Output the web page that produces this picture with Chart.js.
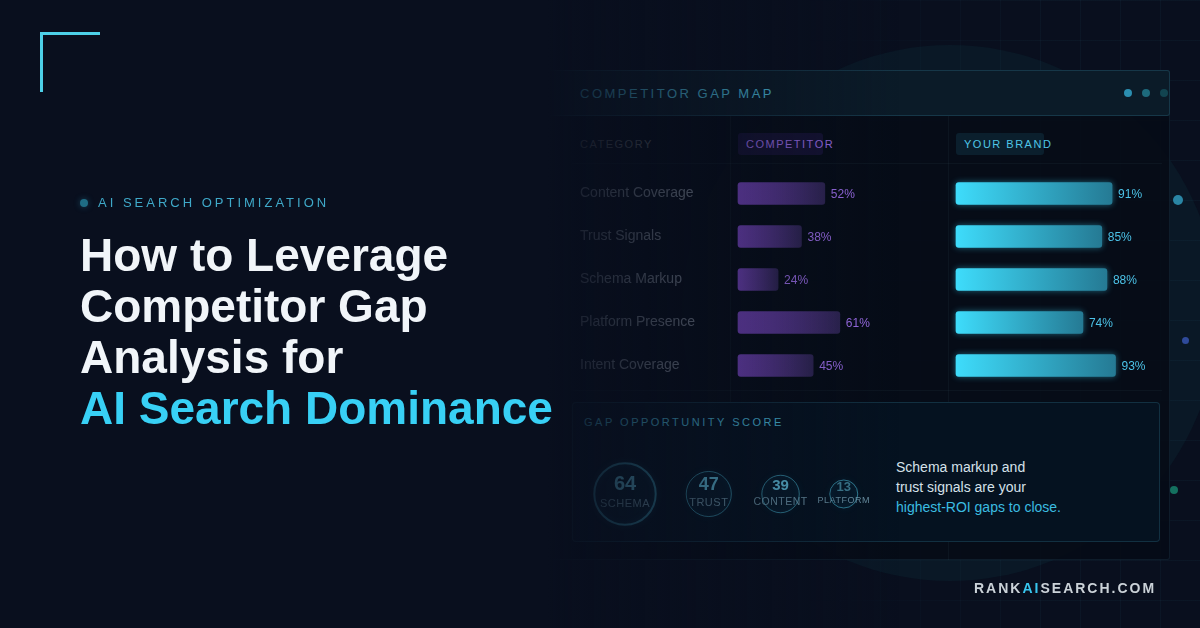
<!DOCTYPE html>
<html>
<head>
<meta charset="utf-8">
<title>Competitor Gap Map</title>
<script src="https://cdn.jsdelivr.net/npm/chart.js@4/dist/chart.umd.min.js"></script>
<style>
html, body { margin: 0; padding: 0; background: #090f1e; }
body { width: 1200px; height: 628px; position: relative; overflow: hidden; font-family: "Liberation Sans", Arial, sans-serif; }
.abs { position: absolute; }
canvas { position: absolute; display: block; }
#glow { left: 682px; top: 45px; width: 536px; height: 536px; border-radius: 50%; background: #0a1826; }
#grid { left: 600px; top: 0; width: 600px; height: 628px;
  background-image: linear-gradient(rgba(70,160,190,.05) 1px, transparent 1px), linear-gradient(90deg, rgba(70,160,190,.05) 1px, transparent 1px);
  background-size: 40px 40px; background-position: 0 0;
  -webkit-mask-image: linear-gradient(90deg, transparent 200px, #000 450px); mask-image: linear-gradient(90deg, transparent 200px, #000 450px); }
#panel { left: 548px; top: 70px; width: 622px; height: 490px; background: rgba(5,11,22,.9); border: 1px solid rgba(80,160,190,.12); box-sizing: border-box; border-radius: 3px; }
#head { left: 548px; top: 70px; width: 622px; height: 46px; background: #0b1b28; border: 1px solid rgba(70,170,200,.2); box-sizing: border-box; border-radius: 3px; }
.line { background: rgba(120,170,190,.06); }
.dot { border-radius: 50%; }
#box { left: 572px; top: 402px; width: 588px; height: 140px; background: #051220; border: 1px solid rgba(70,170,200,.2); box-sizing: border-box; border-radius: 4px; }
.pill { height: 22px; top: 133px; border-radius: 3px; }
.cap { white-space: nowrap; line-height: 1; }
#fade { left: 0; top: 0; width: 1200px; height: 628px;
  background: linear-gradient(90deg, #090f1e 548px, rgba(9,15,30,.85) 575px, rgba(9,15,30,.42) 740px, rgba(9,15,30,0) 900px); }
#title { left: 80px; top: 230px; font-size: 46px; line-height: 51px; font-weight: 700; color: #f1f5f9; white-space: nowrap; letter-spacing: 0; }
#title span { color: #38d0f5; }
</style>
</head>
<body>
<div class="abs" id="glow"></div>
<div class="abs" id="grid"></div>
<div class="abs dot" style="left:1173px;top:195px;width:10px;height:10px;background:#2a86a5"></div>
<div class="abs dot" style="left:1182px;top:337px;width:7px;height:7px;background:#2f4a9a"></div>
<div class="abs dot" style="left:1170px;top:486px;width:8px;height:8px;background:#14705f"></div>

<div class="abs" id="panel"></div>
<div class="abs line" style="left:730px;top:116px;width:1px;height:286px"></div>
<div class="abs line" style="left:948px;top:116px;width:1px;height:444px"></div>
<div class="abs line" style="left:572px;top:163px;width:590px;height:1px"></div>
<div class="abs line" style="left:572px;top:390px;width:590px;height:1px"></div>
<div class="abs" id="head"></div>
<div class="abs dot" style="left:1124px;top:89px;width:8px;height:8px;background:#2b8eb0"></div>
<div class="abs dot" style="left:1142px;top:89px;width:8px;height:8px;background:#1d6a7c"></div>
<div class="abs dot" style="left:1160px;top:89px;width:8px;height:8px;background:#124450"></div>
<div class="abs cap" style="left:580px;top:87px;font-size:13px;letter-spacing:2.5px;color:#4fc6e6">COMPETITOR GAP MAP</div>

<div class="abs pill" style="left:738px;width:85px;background:rgba(124,58,237,.13)"></div>
<div class="abs pill" style="left:956px;width:88px;background:rgba(56,208,245,.1)"></div>
<div class="abs cap" style="left:580px;top:139px;font-size:11px;letter-spacing:1.5px;color:rgba(255,255,255,.35)">CATEGORY</div>
<div class="abs cap" style="left:746px;top:139px;font-size:11px;letter-spacing:1.5px;color:#a070ee">COMPETITOR</div>
<div class="abs cap" style="left:964px;top:139px;font-size:11px;letter-spacing:1.5px;color:#4fc6e6">YOUR BRAND</div>

<div class="abs" id="box"></div>
<div class="abs cap" style="left:584px;top:417px;font-size:11px;letter-spacing:2.5px;color:#4fc6e6">GAP OPPORTUNITY SCORE</div>
<div class="abs" style="left:896px;top:457px;font-size:14px;line-height:20px;color:#d5e1ea;white-space:nowrap">Schema markup and<br>trust signals are your<br><span style="color:#3bbde0">highest-ROI gaps to close.</span></div>

<canvas id="compChart" class="abs" style="left:580px;top:172px;width:368px;height:215px"></canvas>
<canvas id="brandChart" class="abs" style="left:940px;top:172px;width:230px;height:215px"></canvas>
<canvas id="scoreChart" class="abs" style="left:575px;top:444px;width:310px;height:100px"></canvas>

<div class="abs" id="fade"></div>

<div class="abs" style="left:40px;top:32px;width:60px;height:3px;background:#4dd0e8"></div>
<div class="abs" style="left:40px;top:32px;width:3px;height:60px;background:#4dd0e8"></div>
<div class="abs dot" style="left:80px;top:199px;width:8px;height:8px;background:#1f6d85;box-shadow:0 0 6px rgba(50,170,210,.35)"></div>
<div class="abs cap" style="left:98px;top:196px;font-size:13px;letter-spacing:3px;color:#3fa9c9">AI SEARCH OPTIMIZATION</div>
<div class="abs" id="title">How to Leverage<br>Competitor Gap<br>Analysis for<br><span>AI Search Dominance</span></div>
<div class="abs cap" style="left:974px;top:581px;font-size:14px;font-weight:700;letter-spacing:2px;color:#cbd2d8">RANK<span style="color:#38c6ee">AI</span>SEARCH.COM</div>

<script>
// chart data
var categories = ["Content Coverage", "Trust Signals", "Schema Markup", "Platform Presence", "Intent Coverage"];
var competitorValues = [52, 38, 24, 61, 45];
var brandValues = [91, 85, 88, 74, 93];

var scoreLabels = ["SCHEMA", "TRUST", "CONTENT", "PLATFORM"];
var scoreValues = [64, 47, 39, 13];

var FONT = '"Liberation Sans", Arial, sans-serif';

// circle size follows the score, with a floor for the small ones
function scoreRadius(v) {
    return Math.max(14, v * 0.48);
}

// left to right, fixed gap between the circles
function scorePoints() {
    var pts = [];
    var x = 50;
    scoreValues.forEach(function(v, i) {
        if (i > 0) x += scoreRadius(scoreValues[i - 1]) + 30.5 + scoreRadius(v);
        pts.push({x: x, y: 0, r: scoreRadius(v)});
    });
    return pts;
}

function barGradient(context, from, to) {
    var chart = context.chart;
    if (!chart.chartArea || context.parsed === undefined) return from;
    var x0 = chart.scales.x.getPixelForValue(0);
    var x1 = chart.scales.x.getPixelForValue(context.parsed.x);
    var g = chart.ctx.createLinearGradient(x0, 0, x1, 0);
    g.addColorStop(0, from);
    g.addColorStop(1, to);
    return g;
}

// percent label at the end of each bar
var percentLabels = {
    id: 'percentLabels',
    afterDatasetsDraw: function(chart, args, opts) {
        var ctx = chart.ctx;
        var meta = chart.getDatasetMeta(0);
        ctx.save();
        ctx.font = '12px ' + FONT;
        ctx.fillStyle = opts.color;
        ctx.textBaseline = 'middle';
        meta.data.forEach(function(bar, i) {
            ctx.fillText(chart.data.datasets[0].data[i] + '%', bar.x + 6, bar.y + 1);
        });
        ctx.restore();
    }
};

// soft glow behind the marks
var softGlow = {
    id: 'softGlow',
    beforeDatasetDraw: function(chart, args, opts) {
        if (!opts.color) return;
        chart.ctx.save();
        chart.ctx.shadowColor = opts.color;
        chart.ctx.shadowBlur = opts.blur;
    },
    afterDatasetDraw: function(chart, args, opts) {
        if (!opts.color) return;
        chart.ctx.restore();
    }
};

// score number and name on top of each circle
var scoreText = {
    id: 'scoreText',
    afterDatasetsDraw: function(chart) {
        var numSizes = [20, 18, 15, 13];
        var numColors = ['#62c4e2', '#62c4e2', '#62c4e2', '#3f7f95'];
        var nameSizes = [11, 11, 10.5, 9];
        var ctx = chart.ctx;
        ctx.save();
        ctx.textAlign = 'center';
        ctx.textBaseline = 'middle';
        chart.getDatasetMeta(0).data.forEach(function(pt, i) {
            ctx.fillStyle = numColors[i];
            ctx.font = 'bold ' + numSizes[i] + 'px ' + FONT;
            ctx.letterSpacing = '0px';
            ctx.fillText(String(scoreValues[i]), pt.x, pt.y - 10 + i);
            ctx.fillStyle = 'rgba(150,200,220,.7)';
            ctx.font = nameSizes[i] + 'px ' + FONT;
            ctx.letterSpacing = '0.5px';
            ctx.fillText(scoreLabels[i], pt.x, pt.y + 10 - i);
        });
        ctx.restore();
    }
};

function makeBars(id, values, from, to, labelColor, leftLabels, maxX, padding, glow) {
    new Chart(document.getElementById(id), {
        type: 'bar',
        data: {
            labels: categories,
            datasets: [{
                data: values,
                backgroundColor: function(c) { return barGradient(c, from, to); },
                borderRadius: 3,
                borderSkipped: false,
                barThickness: 22,
                clip: false
            }]
        },
        options: {
            indexAxis: 'y',
            responsive: false,
            animation: false,
            layout: {padding: padding, autoPadding: false},
            plugins: {
                legend: {display: false},
                tooltip: {enabled: false},
                percentLabels: {color: labelColor},
                softGlow: glow
            },
            scales: {
                x: {display: false, min: 0, max: maxX},
                y: {
                    display: leftLabels,
                    border: {display: false},
                    grid: {display: false},
                    afterFit: function(scale) { if (leftLabels) scale.width = 158; },
                    ticks: {
                        crossAlign: 'far',
                        padding: 0,
                        color: 'rgba(200,210,225,.62)',
                        // lineHeight 0 keeps the axis from shrinking the rows
                        font: {family: FONT, size: 14, lineHeight: 0}
                    }
                }
            }
        },
        plugins: [percentLabels, softGlow]
    });
}

document.getElementById('compChart').width = 368;
document.getElementById('compChart').height = 215;
document.getElementById('brandChart').width = 230;
document.getElementById('brandChart').height = 215;
document.getElementById('scoreChart').width = 310;
document.getElementById('scoreChart').height = 100;

makeBars('compChart', competitorValues, '#7d48c8', '#2f2554', '#a070ee', true, 100, {right: 43},
    {color: null});
makeBars('brandChart', brandValues, '#3edcfb', '#257a94', '#4cc3e8', false, 100, {left: 16, right: 42.5},
    {color: 'rgba(56,208,245,.45)', blur: 6});

new Chart(document.getElementById('scoreChart'), {
    type: 'bubble',
    data: {
        datasets: [{
            data: scorePoints(),
            backgroundColor: 'rgba(56,208,245,.04)',
            borderColor: 'rgba(80,200,230,.6)',
            borderWidth: function(c) { return c.dataIndex === 0 ? 2 : 1; },
            clip: false
        }]
    },
    options: {
        responsive: false,
        animation: false,
        layout: {padding: 0, autoPadding: false},
        plugins: {
            legend: {display: false},
            tooltip: {enabled: false},
            softGlow: {color: 'rgba(56,208,245,.35)', blur: 6}
        },
        scales: {
            x: {display: false, min: 0, max: 310},
            y: {display: false, min: -1, max: 1}
        }
    },
    plugins: [softGlow, scoreText]
});
</script>
</body>
</html>
